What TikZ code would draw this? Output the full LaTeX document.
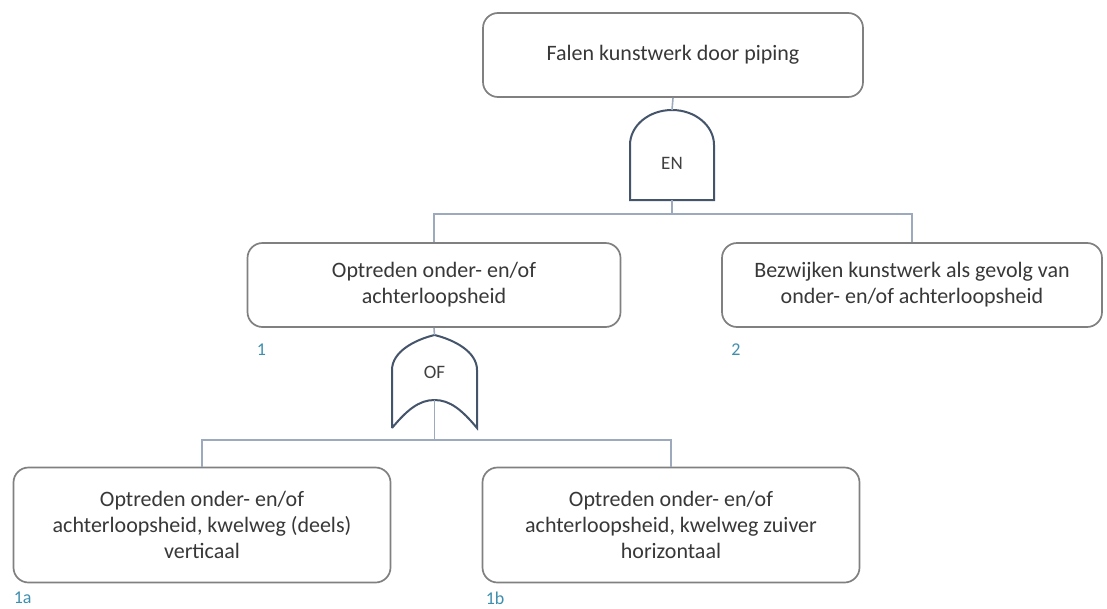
\documentclass[tikz,border=0pt]{standalone}
\usepackage{fontspec}
\setmainfont{Carlito}
\usetikzlibrary{positioning}
\definecolor{slate}{HTML}{44546A}
\definecolor{lightslate}{HTML}{9DAABD}
\definecolor{teal}{HTML}{3E8FAE}
\definecolor{boxgray}{HTML}{808080}

\begin{document}
\begin{tikzpicture}[x=1pt,y=-1pt,
    evt/.style={draw=\BOXCOLOR, line width=1.7pt, rounded corners=15pt, fill=white,
        align=center, font=\fontsize{22}{26}\selectfont, text=black!78},
    lbl/.style={text=\LBLCOLOR, font=\fontsize{18}{20}\selectfont, inner sep=0pt},
    gate/.style={draw=\GATECOLOR, line width=2pt, fill=white},
    wire/.style={draw=\WIRECOLOR, line width=1.6pt}]

\def\BOXCOLOR{boxgray}
\def\GATECOLOR{slate}
\def\WIRECOLOR{lightslate}
\def\LBLCOLOR{teal}

	\useasboundingbox[fill=white] (0,0) rectangle (1107,608);

	% gebeurtenissen
	\node[evt, minimum width=380pt, minimum height=84pt] (top) at (673,55) {Falen kunstwerk door piping};
	\node[evt, minimum width=373pt, minimum height=84pt] (b1) at (434,285) {Optreden onder- en/of\\achterloopsheid};
	\node[evt, minimum width=380pt, minimum height=84pt] (b2) at (912,285) {Bezwijken kunstwerk als gevolg van\\onder- en/of achterloopsheid};
	\node[evt, minimum width=377pt, minimum height=115pt] (b1a) at (202,525) {Optreden onder- en/of\\achterloopsheid, kwelweg (deels)\\verticaal};
	\node[evt, minimum width=377pt, minimum height=115pt] (b1b) at (671,525) {Optreden onder- en/of\\achterloopsheid, kwelweg zuiver\\horizontaal};

	\node[lbl, anchor=north west] (l1) at ([xshift=10pt,yshift=-16pt]b1.south west) {1};
	\node[lbl, anchor=north west] (l2) at ([xshift=10pt,yshift=-16pt]b2.south west) {2};
	\node[lbl, anchor=north west] (l1a) at ([xshift=1pt,yshift=-8pt]b1a.south west) {1a};
	\node[lbl, anchor=north west] (l1b) at ([xshift=4pt,yshift=-8pt]b1b.south west) {1b};

	% EN-poort
	\coordinate (ENtop) at (672,110);
	\coordinate (ENbot) at (672,200);
	\coordinate (ENbus) at (672,214);
	\draw[gate] (630,200) -- (630,145) arc[start angle=180, end angle=0, x radius=42pt, y radius=35pt] -- (714,200) -- cycle;
	\node[font=\fontsize{19}{20}\selectfont, text=black!75] (EN) at (672,163) {EN};

	% OF-poort
	\coordinate (OFtop) at (434.5,335);
	\coordinate (OFin) at (434.5,400);
	\coordinate (OFbus) at (434.5,440);
	\draw[gate] (392,428) -- (392,370) .. controls (392,352) and (414,340) .. (OFtop)
		.. controls (455,340) and (477,352) .. (477,370) -- (477,428)
		.. controls (462,410) and (450,400) .. (OFin) .. controls (419,400) and (407,410) .. (392,428);
	\node[font=\fontsize{19}{20}\selectfont, text=black!75] (OF) at (434.5,372) {OF};

	% verbindingen
	\draw[wire] (top.south) -- (ENtop);
	\draw[wire] (ENbot) -- (ENbus);
	\draw[wire] (b1.north) |- (ENbus) -| (b2.north);
	\draw[wire] (b1.south) -- (OFtop);
	\draw[wire] (OFin) -- (OFbus);
	\draw[wire] (b1a.north) |- (OFbus) -| (b1b.north);

\end{tikzpicture}
\end{document}
